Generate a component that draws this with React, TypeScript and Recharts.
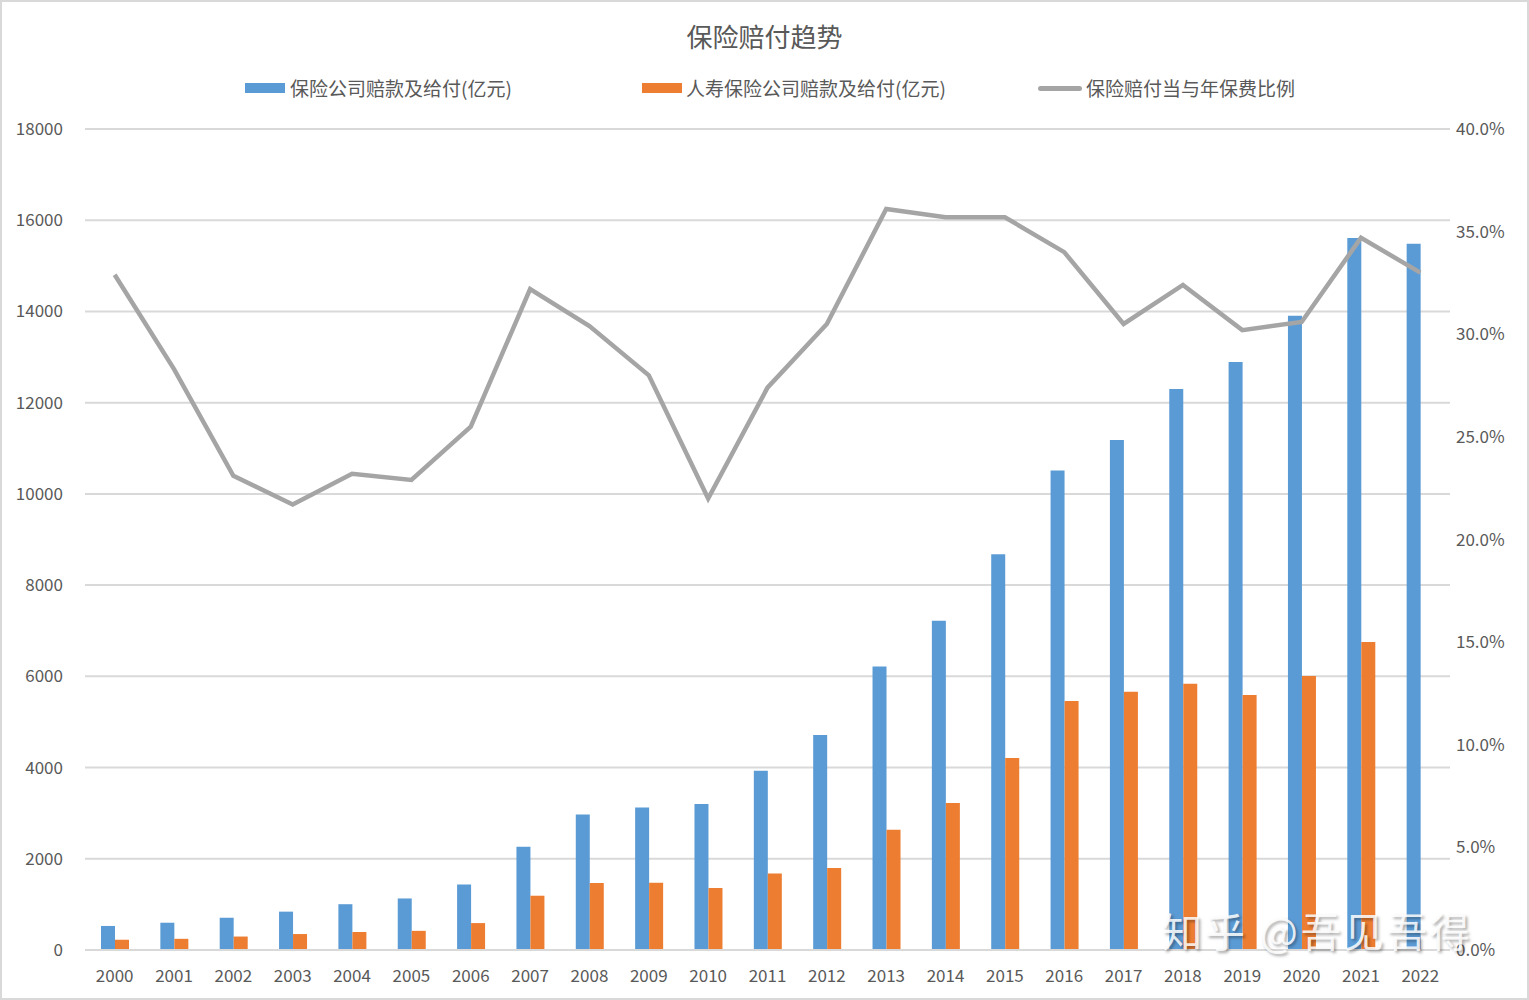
import { ComposedChart, Bar, Line, XAxis, YAxis, CartesianGrid } from 'recharts';

const years = ['2000', '2001', '2002', '2003', '2004', '2005', '2006', '2007', '2008', '2009', '2010', '2011', '2012', '2013', '2014', '2015', '2016', '2017', '2018', '2019', '2020', '2021', '2022'];
const totalClaims = [527, 598, 707, 841, 1004, 1130, 1438, 2265, 2971, 3125, 3200, 3929, 4716, 6213, 7216, 8674, 10513, 11181, 12298, 12894, 13907, 15609, 15485];
const lifeClaims = [225, 245, 295, 350, 395, 420, 590, 1190, 1470, 1475, 1360, 1675, 1800, 2635, 3225, 4210, 5460, 5660, 5835, 5590, 6010, 6755, null];
const claimRatio = [32.9, 28.3, 23.1, 21.7, 23.2, 22.9, 25.5, 32.2, 30.4, 28.0, 22.0, 27.4, 30.5, 36.1, 35.7, 35.7, 34.0, 30.5, 32.4, 30.2, 30.6, 34.7, 33.0];
const leftTicks = [0, 2000, 4000, 6000, 8000, 10000, 12000, 14000, 16000, 18000];
const rightTicks = [0, 5, 10, 15, 20, 25, 30, 35, 40];

const data = years.map((y, i) => ({ year: y, total: totalClaims[i], life: lifeClaims[i], ratio: claimRatio[i] }));

const font = '"Noto Sans CJK SC", "Noto Sans", sans-serif';
const tickStyle = { fill: '#595959', fontSize: 17, fontFamily: font };

export default function App() {
  return (
    <div style={{ position: 'absolute', left: 0, top: 0, width: 1529, height: 1000, background: '#fff', boxSizing: 'border-box', border: '2px solid #d9d9d9', fontFamily: font }}>
      <div style={{ position: 'absolute', left: 0, right: 0, top: 15, textAlign: 'center', fontSize: 26, color: '#595959' }}>保险赔付趋势</div>
      <div style={{ position: 'absolute', top: 73, left: 0, width: 1529, height: 24, fontSize: 19, color: '#595959' }}>
        <div style={{ position: 'absolute', left: 243, top: 8, width: 40, height: 10, background: '#5b9bd5' }} />
        <div style={{ position: 'absolute', left: 288, top: -1 }}>保险公司赔款及给付(亿元)</div>
        <div style={{ position: 'absolute', left: 640, top: 8, width: 40, height: 10, background: '#ed7d31' }} />
        <div style={{ position: 'absolute', left: 684, top: -1 }}>人寿保险公司赔款及给付(亿元)</div>
        <div style={{ position: 'absolute', left: 1036, top: 11, width: 44, height: 5, borderRadius: 3, background: '#a5a5a5' }} />
        <div style={{ position: 'absolute', left: 1084, top: -1 }}>保险赔付当与年保费比例</div>
      </div>
      <div style={{ position: 'absolute', left: -2, top: -2 }}>
        <ComposedChart width={1529} height={1000} data={data} margin={{ top: 129, right: 0, bottom: 10, left: 0 }} barGap={0}>
          <CartesianGrid yAxisId="left" vertical={false} stroke="#d9d9d9" strokeWidth={2} />
          <XAxis dataKey="year" tick={tickStyle} tickLine={false} axisLine={{ stroke: '#d9d9d9', strokeWidth: 2 }} tickMargin={14} height={40} interval={0} />
          <YAxis yAxisId="left" domain={[0, 18000]} ticks={leftTicks} tick={tickStyle} tickLine={false} axisLine={false} tickSize={0} tickMargin={22} width={85} />
          <YAxis yAxisId="right" orientation="right" domain={[0, 40]} ticks={rightTicks} tickFormatter={(v: number) => v.toFixed(1) + '%'} tick={tickStyle} tickLine={false} axisLine={false} tickSize={0} tickMargin={6} width={79} />
          <Bar yAxisId="left" dataKey="total" fill="#5b9bd5" barSize={14} isAnimationActive={false} />
          <Bar yAxisId="left" dataKey="life" fill="#ed7d31" barSize={14} isAnimationActive={false} />
          <Line yAxisId="right" dataKey="ratio" stroke="#a5a5a5" strokeWidth={4.5} dot={false} isAnimationActive={false} />
        </ComposedChart>
      </div>
      <div style={{ position: 'absolute', left: 1160, top: 902, fontSize: 40, lineHeight: '52px', color: 'rgba(255,255,255,0.85)', textShadow: '2px 2px 3px rgba(0,0,0,0.35)', letterSpacing: 3, whiteSpace: 'nowrap' }}>知乎 @吾见吾得</div>
    </div>
  );
}
